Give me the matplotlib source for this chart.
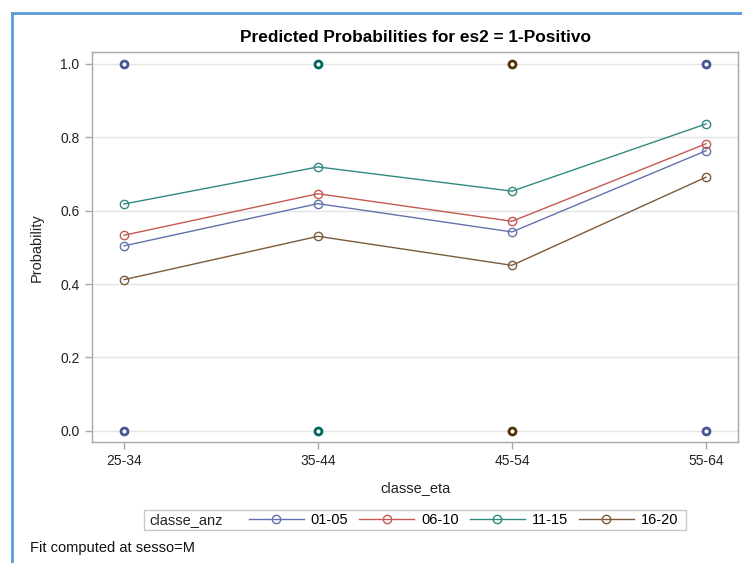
import matplotlib
matplotlib.use("Agg")
import matplotlib.pyplot as plt
from matplotlib.lines import Line2D
from matplotlib.patches import Rectangle
import numpy as np

plt.rcParams['font.family'] = ['Liberation Sans', 'DejaVu Sans']

# age classes on the x axis
classe_eta = ['25-34', '35-44', '45-54', '55-64']

# predicted probabilities per classe_anz group
groups = ['01-05', '06-10', '11-15', '16-20']
p_01_05 = [0.504, 0.619, 0.542, 0.763]
p_06_10 = [0.533, 0.646, 0.571, 0.782]
p_11_15 = [0.618, 0.719, 0.653, 0.836]
p_16_20 = [0.412, 0.530, 0.451, 0.691]
pred = [p_01_05, p_06_10, p_11_15, p_16_20]

# observed responses (0/1) and the group drawn on top at each age class
obs_group = ['01-05', '11-15', '16-20', '01-05']
obs_values = [0, 1]

line_colors = ['#6272AE', '#C45A52', '#2F8A80', '#7B5B3C']
dark_colors = ['#445694', '#A23A2E', '#01665E', '#543005']

fig = plt.figure(figsize=(7.42, 5.63), dpi=100)
ax = fig.add_axes([0.124, 0.215, 0.8706, 0.692])

x = np.arange(len(classe_eta))
for i, g in enumerate(groups):
    ax.plot(x, pred[i], color=line_colors[i], lw=1.0, marker='o',
            markersize=6, markerfacecolor='none', markeredgewidth=1.0,
            zorder=3)

for j, g in enumerate(obs_group):
    c = dark_colors[groups.index(g)]
    for v in obs_values:
        ax.plot(x[j], v, 'o', markersize=5, markerfacecolor='white',
                markeredgecolor=c, markeredgewidth=2.0, zorder=4)

ax.set_xlim(-0.165, 3.165)
ax.set_ylim(-0.030, 1.031)
ax.set_xticks(x)
ax.set_xticklabels(classe_eta)
ax.set_yticks([0.0, 0.2, 0.4, 0.6, 0.8, 1.0])
ax.set_yticklabels(['0.0', '0.2', '0.4', '0.6', '0.8', '1.0'])
ax.grid(axis='y', color='#E4E4E4', lw=1.0, zorder=0)
ax.set_axisbelow(True)
for s in ax.spines.values():
    s.set_color('#A8A8A8')
    s.set_linewidth(1.0)
ax.tick_params(axis='both', colors='#A8A8A8', labelcolor='#222222',
               labelsize=10, length=5, width=1.0, pad=4)

ax.set_xlabel('classe_eta', fontsize=10.5, color='#222222', labelpad=9)
ax.set_ylabel('Probability', fontsize=10.5, color='#222222', labelpad=12)
ax.set_title('Predicted Probabilities for es2 = 1-Positivo', fontsize=12.4,
             fontweight='bold', pad=7.5)

# legend: group entries without frame, framed box and variable name drawn around them
handles = []
for i, g in enumerate(groups):
    handles.append(Line2D([], [], color=line_colors[i], lw=1.0, marker='o',
                          markersize=6, markerfacecolor='none',
                          markeredgewidth=1.0))
fig.legend(handles, groups, loc='center', ncol=4,
           bbox_to_anchor=(463.5 / 742, 1 - 520 / 563), fontsize=10.5,
           frameon=False, handlelength=3.77, handletextpad=0.48,
           columnspacing=0.75, borderpad=0.0, borderaxespad=0.0)
fig.add_artist(Rectangle((144 / 742, 1 - 530 / 563), 542 / 742, 20 / 563,
                         transform=fig.transFigure, facecolor='white',
                         edgecolor='#C8C8C8', lw=1.0, zorder=-1))
fig.text(149 / 742, 1 - 520 / 563, 'classe_anz', fontsize=10.5,
         va='center', ha='left', color='#222222')

fig.text(30 / 742, 1 - 548 / 563, 'Fit computed at sesso=M', fontsize=10.5,
         va='center', ha='left', color='#111111')

# outer frame lines
bx = 12 / 742
by = 1 - 13 / 563
fig.add_artist(Line2D([bx, bx], [0, by], color='#5B9BD5', lw=2.0,
                      transform=fig.transFigure))
fig.add_artist(Line2D([bx, 1], [by, by], color='#5B9BD5', lw=2.0,
                      transform=fig.transFigure))

fig.savefig('out.png', dpi=100)
